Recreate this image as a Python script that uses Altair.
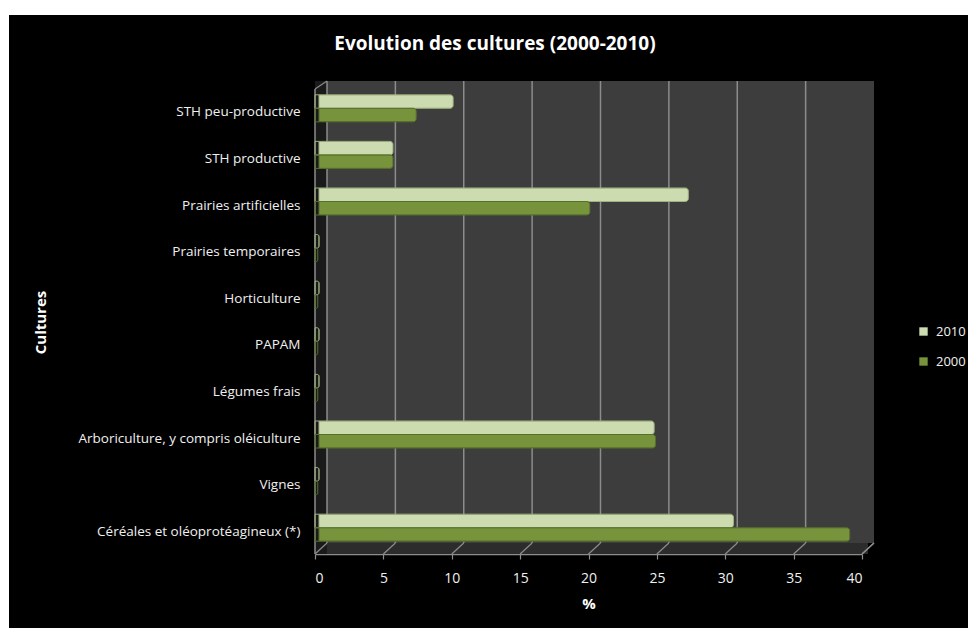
import altair as alt
import pandas as pd

categories = [
    "STH peu-productive",
    "STH productive",
    "Prairies artificielles",
    "Prairies temporaires",
    "Horticulture",
    "PAPAM",
    "Légumes frais",
    "Arboriculture, y compris oléiculture",
    "Vignes",
    "Céréales et oléoprotéagineux (*)",
]
values_2010 = [10.1, 5.7, 27.3, 0.3, 0.3, 0.3, 0.3, 24.8, 0.3, 30.6]
values_2000 = [7.4, 5.7, 20.1, 0.2, 0.2, 0.2, 0.2, 24.9, 0.2, 39.1]
series = ["2010", "2000"]
series_colors = ["#cddcb0", "#77933c"]
x_ticks = [0, 5, 10, 15, 20, 25, 30, 35, 40]

rows = []
for c, a, b in zip(categories, values_2010, values_2000):
    rows.append({"Culture": c, "Année": "2010", "Valeur": a})
    rows.append({"Culture": c, "Année": "2000", "Valeur": b})
df = pd.DataFrame(rows)

one = pd.DataFrame({"k": [0]})
grid_df = pd.DataFrame({"v": [0, 5, 10, 15, 20, 25, 30, 35]})
conn_df = pd.DataFrame({"v": x_ticks})

W, H = 547, 466
PL, PT = 315, 85

xscale = alt.Scale(domain=[0, 40], nice=False, zero=True)

# white frame strips (page margin around the black chart)
strip_top = alt.Chart(one).mark_rect(color="white").encode(
    x=alt.value(-PL), x2=alt.value(968 - PL), y=alt.value(-PT), y2=alt.value(15 - PT)
)
strip_left = alt.Chart(one).mark_rect(color="white").encode(
    x=alt.value(-PL), x2=alt.value(9 - PL), y=alt.value(-PT), y2=alt.value(628 - PT)
)

back_wall = alt.Chart(one).mark_rect(color="#3d3d3d", xOffset=12, x2Offset=12).encode(
    x=alt.datum(0, scale=xscale), x2=alt.datum(40), y=alt.value(-4), y2=alt.value(458)
)
floor = alt.Chart(one).mark_rect(color="#2c2c2c", xOffset=6, x2Offset=6).encode(
    x=alt.datum(0), x2=alt.datum(40), y=alt.value(458), y2=alt.value(469)
)
left_wall = alt.Chart(one).mark_rect(color="#1a1a1a", x2Offset=12).encode(
    x=alt.datum(0), x2=alt.datum(0), y=alt.value(-4), y2=alt.value(469)
)
grid = alt.Chart(grid_df).mark_rule(color="#8c8c8c", strokeWidth=1.5, xOffset=12).encode(
    x=alt.X("v:Q"), y=alt.value(-4), y2=alt.value(458)
)
connectors = alt.Chart(conn_df).mark_rule(color="#8c8c8c", strokeWidth=1.2, x2Offset=12).encode(
    x=alt.X("v:Q"), x2="v:Q", y=alt.value(469), y2=alt.value(458)
)
top_diag = alt.Chart(one).mark_rule(color="#8c8c8c", strokeWidth=1.2, x2Offset=12).encode(
    x=alt.datum(0), x2=alt.datum(0), y=alt.value(4), y2=alt.value(-4)
)
right_diag = alt.Chart(one).mark_rule(color="#8c8c8c", strokeWidth=1.2, x2Offset=12).encode(
    x=alt.datum(40), x2=alt.datum(40), y=alt.value(469), y2=alt.value(458)
)
front_left = alt.Chart(one).mark_rule(color="#8c8c8c", strokeWidth=1.5).encode(
    x=alt.datum(0), y=alt.value(4), y2=alt.value(469)
)

bars = alt.Chart(df).mark_bar(
    xOffset=4, x2Offset=4, strokeWidth=1, cornerRadiusEnd=3
).encode(
    y=alt.Y(
        "Culture:N",
        sort=categories,
        scale=alt.Scale(paddingInner=0.42, paddingOuter=0.21),
        axis=alt.Axis(
            title="Cultures",
            titleX=-275,
            titleY=237,
            titleAngle=-90,
            titleAlign="center",
            titleBaseline="middle",
            titleFontSize=15,
            titleFontWeight="bold",
            titleColor="white",
            labelFontSize=13.5,
            labelColor="#f0f0f0",
            labelPadding=15,
            labelOffset=4,
            labelLimit=0,
            domain=False,
            ticks=False,
            grid=False,
        ),
    ),
    yOffset=alt.YOffset("Année:N", sort=series, scale=alt.Scale(domain=series)),
    x=alt.X(
        "Valeur:Q",
        scale=xscale,
        axis=alt.Axis(
            title="%",
            values=x_ticks,
            grid=False,
            offset=3,
            domainColor="#8c8c8c",
            domainWidth=1.5,
            tickColor="#8c8c8c",
            tickSize=5,
            tickWidth=1.2,
            labelFontSize=14,
            labelColor="#f0f0f0",
            labelPadding=12,
            titleFontSize=15,
            titleFontWeight="bold",
            titleColor="white",
            titleBaseline="middle",
            titleY=49,
        ),
    ),
    color=alt.Color(
        "Année:N",
        sort=series,
        scale=alt.Scale(domain=series, range=series_colors),
        legend=alt.Legend(
            title=None,
            orient="none",
            legendX=602,
            legendY=240,
            symbolType="square",
            symbolSize=70,
            symbolStrokeWidth=0,
            labelFontSize=13,
            labelColor="#f0f0f0",
            rowPadding=16,
            padding=0,
            labelOffset=6,
        ),
    ),
    stroke=alt.Stroke(
        "Année:N",
        sort=series,
        scale=alt.Scale(domain=series, range=["#9fb27f", "#56702a"]),
        legend=None,
    ),
)

title = alt.Chart(one).mark_text(
    text="Evolution des cultures (2000-2010)",
    fontSize=19,
    fontWeight="bold",
    color="white",
    font="Open Sans",
    align="center",
    baseline="middle",
).encode(x=alt.value(495 - PL), y=alt.value(44 - PT))

chart = alt.layer(
    strip_top, strip_left, back_wall, floor, left_wall, grid, connectors,
    top_diag, right_diag, front_left, bars, title
).properties(
    width=W,
    height=H,
    background="black",
    padding={"left": PL, "top": PT, "right": 968 - PL - W, "bottom": 628 - PT - H},
    autosize=alt.AutoSizeParams(type="none"),
).configure_view(
    stroke=None
).configure(
    font="Open Sans"
)

chart.save("out.html", embed_options={"renderer": "svg", "actions": False})
